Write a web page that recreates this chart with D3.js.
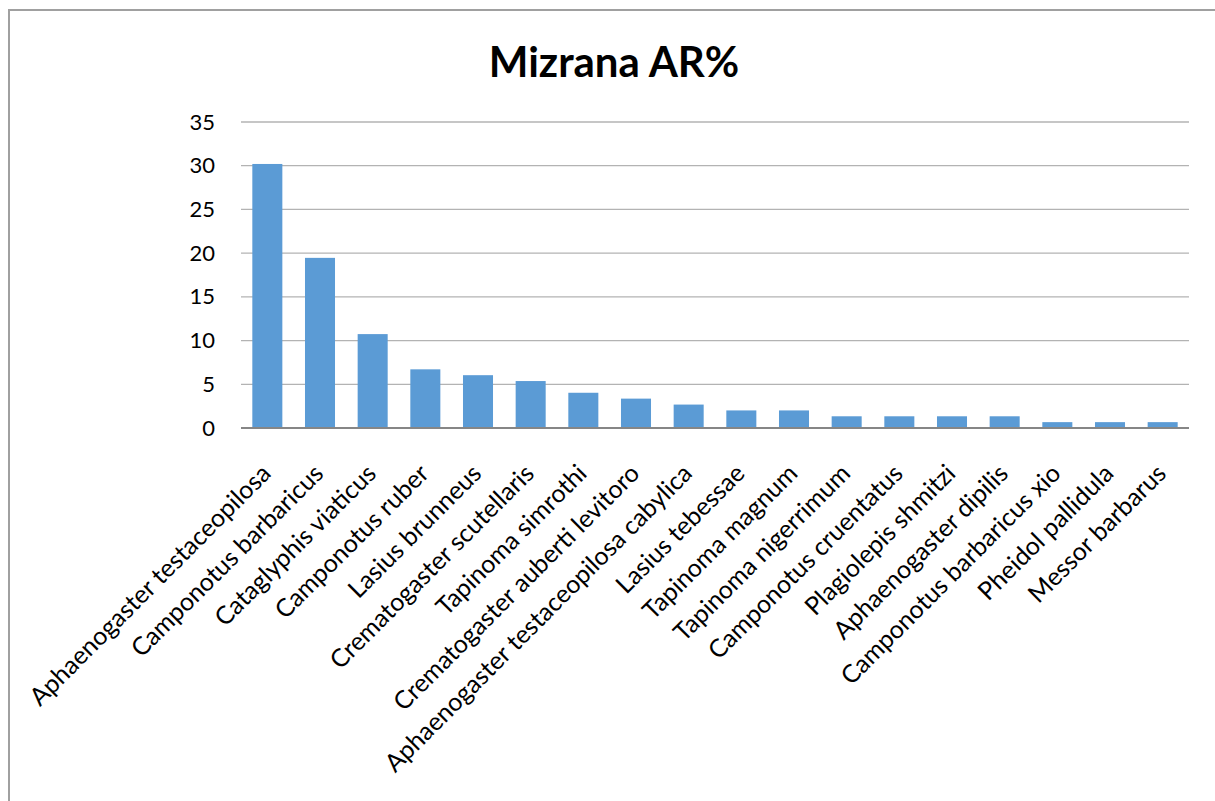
<!DOCTYPE html>
<html>
<head>
<meta charset="utf-8">
<script src="https://cdn.jsdelivr.net/npm/d3@7"></script>
<style>
  body { margin: 0; background: #fff; }
  svg text { font-family: Lato, "Open Sans", sans-serif; fill: #000; }
</style>
</head>
<body>
<svg width="1215" height="801"></svg>
<script>
// species, in chart order
var species = [
  "Aphaenogaster testaceopilosa", "Camponotus barbaricus", "Cataglyphis viaticus",
  "Camponotus ruber", "Lasius brunneus", "Crematogaster scutellaris",
  "Tapinoma simrothi", "Crematogaster auberti levitoro", "Aphaenogaster testaceopilosa cabylica",
  "Lasius tebessae", "Tapinoma magnum", "Tapinoma nigerrimum",
  "Camponotus cruentatus", "Plagiolepis shmitzi", "Aphaenogaster dipilis",
  "Camponotus barbaricus xio", "Pheidol pallidula", "Messor barbarus"
]
// AR%
var arPercent = [30.2, 19.46, 10.74, 6.71, 6.04, 5.37, 4.03, 3.36, 2.68,
                 2.01, 2.01, 1.34, 1.34, 1.34, 1.34, 0.67, 0.67, 0.67]
var yTicks = [0, 5, 10, 15, 20, 25, 30, 35]
var title = "Mizrana AR%"

var svg = d3.select('svg')

// outer frame (only top and left edges show)
svg.append("path")
   .attr("d", "M9,801 L9,10 L1215,10")
   .attr("fill", "none")
   .attr("stroke", "#a0a0a0")
   .attr("stroke-width", 2)

var plotLeft = 241, plotRight = 1189, plotTop = 122, plotBottom = 428

var x = d3.scaleBand()
          .domain(species)
          .range([plotLeft, plotRight])
          .paddingInner(0.43)
          .paddingOuter(0.215)

var y = d3.scaleLinear()
          .domain([0, 35])
          .range([plotBottom, plotTop])

svg.append("text")
   .attr("x", 614)
   .attr("y", 77)
   .attr("text-anchor", "middle")
   .style("font-size", "42px")
   .style("font-weight", "bold")
   .text(title)

// gridlines
svg.selectAll(".grid")
   .data(yTicks.filter(d => d > 0))
   .enter()
   .append("line")
   .attr("class", "grid")
   .attr("x1", plotLeft)
   .attr("x2", plotRight)
   .attr("y1", d => y(d))
   .attr("y2", d => y(d))
   .attr("stroke", "#b3b3b3")
   .attr("stroke-width", 1.3)

// y axis labels
var yAxis = svg.append("g")
               .attr("transform", `translate(${plotLeft},0)`)
               .call(d3.axisLeft(y).tickValues(yTicks).tickSize(0).tickPadding(26))
yAxis.select(".domain").remove()
yAxis.selectAll("text")
     .attr("font-family", null)
     .style("font-size", "22px")

svg.selectAll(".bar")
   .data(arPercent)
   .enter()
   .append("rect")
   .attr("class", "bar")
   .attr("x", (d, i) => x(species[i]))
   .attr("width", x.bandwidth())
   .attr("y", d => y(d))
   .attr("height", d => plotBottom - y(d))
   .attr("fill", "#5b9bd5")

// baseline
svg.append("line")
   .attr("x1", plotLeft)
   .attr("x2", plotRight)
   .attr("y1", plotBottom)
   .attr("y2", plotBottom)
   .attr("stroke", "#868686")
   .attr("stroke-width", 2)

// rotated category labels
var xAxis = svg.append("g")
               .attr("transform", `translate(0,${plotBottom})`)
               .call(d3.axisBottom(x).tickSize(0).tickPadding(0))
xAxis.select(".domain").remove()
xAxis.selectAll("text")
     .attr("font-family", null)
     .style("font-size", "25px")
     .attr("text-anchor", "end")
     .attr("y", 0)
     .attr("dy", 0)
     .attr("transform", "translate(5,47) rotate(-45)")
</script>
</body>
</html>
